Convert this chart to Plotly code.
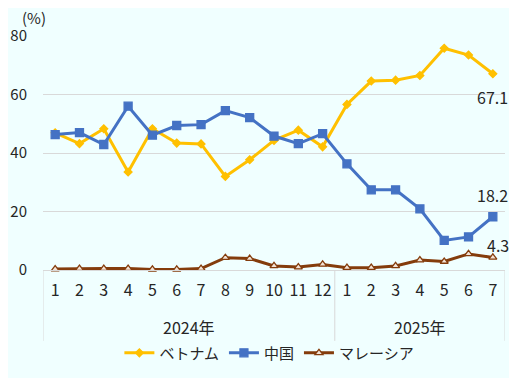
import plotly.graph_objects as go

# --- data ---
months = [str(m) for m in range(1, 13)] + [str(m) for m in range(1, 8)]
years = ["2024年", "2025年"]
year_len = [12, 7]

vietnam = [46.9, 43.2, 48.3, 33.5, 48.3, 43.4, 43.1, 32.0, 37.7, 44.3, 47.8, 42.1,
           56.6, 64.6, 64.9, 66.5, 75.8, 73.5, 67.1]
china = [46.3, 47.0, 42.9, 56.0, 46.1, 49.4, 49.7, 54.5, 52.1, 45.8, 43.2, 46.6,
         36.3, 27.4, 27.4, 20.9, 10.1, 11.3, 18.2]
malaysia = [0.3, 0.5, 0.5, 0.5, 0.2, 0.2, 0.5, 4.2, 3.9, 1.4, 1.0, 1.9,
            0.8, 0.8, 1.4, 3.4, 2.9, 5.5, 4.3]

FONT = "Noto Sans CJK JP"
BG = "#F0FFFF"
GRID = "#D9D9D9"
TXT = "#262626"

# name, values, colour, marker, marker fill, size, label offset (x, y px)
series = [
    ("ベトナム", vietnam, "#FFC000", "diamond", "#FFC000", 6, (0, -23)),
    ("中国", china, "#4472C4", "square", "#4472C4", 8, (0, 22)),
    ("マレーシア", malaysia, "#843C0C", "triangle-up", "#F3E3D6", 7, (5, 12)),
]

idx = list(range(len(months)))

fig = go.Figure()
for name, vals, col, sym, fill, size, (dx, dy) in series:
    fig.add_trace(go.Scatter(
        x=idx, y=vals, name=name, mode="lines+markers",
        line=dict(color=col, width=3),
        marker=dict(symbol=sym, size=size, color=fill,
                    line=dict(color=col, width=1.3)),
        cliponaxis=False,
    ))
    # value label on the last point only
    fig.add_annotation(x=idx[-1], y=vals[-1], text=f"{vals[-1]:.1f}", showarrow=False,
                       xshift=dx, yshift=dy, font=dict(size=16, color=TXT))

# year group labels and divider lines under the month ticks
start = -0.5
edges = [start]
for y_lbl, n in zip(years, year_len):
    fig.add_annotation(text=y_lbl, x=start + n / 2, y=-0.244, xref="x", yref="paper",
                       showarrow=False, font=dict(size=16), yanchor="middle")
    start += n
    edges.append(start)
for e in edges:
    fig.add_shape(type="line", x0=e, x1=e, y0=0, y1=-0.303, xref="x", yref="paper",
                  line=dict(color=GRID, width=1))

# page body has an 8px margin, so the figure is shrunk to fit the window
fig.update_layout(
    width=509, height=370,
    margin=dict(l=35, r=12, t=28, b=108, autoexpand=False),
    paper_bgcolor=BG, plot_bgcolor=BG,
    font=dict(family=FONT, size=16, color=TXT),
    showlegend=True,
    legend=dict(orientation="h", x=0.49, xanchor="center", y=-0.355, yanchor="middle",
                font=dict(size=15), bgcolor="rgba(0,0,0,0)"),
)
fig.add_annotation(text="(%)", x=-0.05, y=1.08, xref="paper", yref="paper",
                   xanchor="left", yanchor="middle", showarrow=False,
                   font=dict(size=15))

fig.update_xaxes(
    range=[-0.5, 18.5], tickvals=idx, ticktext=months,
    showline=True, linecolor=GRID, showgrid=False, zeroline=False,
    ticks="", tickangle=0, tickfont=dict(size=16), ticklabelstandoff=6,
    automargin=False,
)
fig.update_yaxes(
    range=[0, 80], dtick=20, showgrid=True, gridcolor=GRID,
    zeroline=False, showline=False, tickfont=dict(size=15),
    ticklabelstandoff=15, automargin=False,
)

fig.write_html("out.html")
